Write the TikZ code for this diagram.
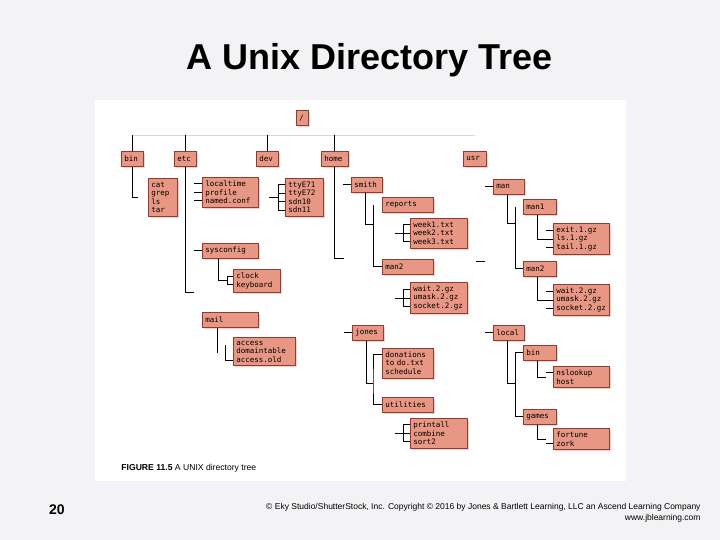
\documentclass[tikz,border=0pt]{standalone}
\usepackage{fontspec}
\setmainfont{Liberation Sans}
\newfontfamily\boxfont{DejaVu Sans Mono}
\usetikzlibrary{shadows}
\definecolor{boxfill}{RGB}{231,151,131}
\definecolor{boxline}{RGB}{140,62,52}
\definecolor{slidebg}{RGB}{243,243,245}

\begin{document}
\begin{tikzpicture}[x=1pt,y=-1pt,line width=.9pt,
 box/.style={draw=boxline,fill=boxfill,line width=.6pt,anchor=north west,align=left,
  inner xsep=3pt,inner ysep=3.5pt,font=\boxfont\fontsize{7.5}{8.5}\selectfont,
  drop shadow={shadow xshift=1.5pt,shadow yshift=-1.5pt,fill=boxfill!45,opacity=1}},
 dir/.style={box,text width=#1,minimum height=15pt},
 files/.style={box,text width=#1},
 lab/.style={font=\fontsize{8.6}{10}\selectfont,inner sep=0pt}]
\fill[slidebg] (0,0) rectangle (720,540);
\useasboundingbox (0,0) rectangle (720,540);
\fill[white] (95,100) rectangle (626,481);
\node[font=\bfseries\fontsize{36}{40}\selectfont,anchor=base] (title) at (369.5,70) {A Unix Directory Tree};
% top level
\node[dir=6pt] (root) at (296,110) {/};
\node[dir=16pt] (bin) at (121,151) {bin};
\node[dir=16pt] (etc) at (174,151) {etc};
\node[dir=16pt] (dev) at (256,151) {dev};
\node[dir=21pt] (home) at (321,151) {home};
\node[dir=17pt] (usr) at (463,151) {usr};
\draw[gray!30] ([yshift=16pt]bin.north) -- ([yshift=16pt]usr.north);
\draw (bin.north) -- ++(0,-16);
\draw (etc.north) -- ++(0,-16);
\draw (dev.north) -- ++(0,-16);
\draw (home.north) -- ++(0,-16);
% bin
\node[files=23pt] (binfiles) at (148,178) {cat\\grep\\ls\\tar};
\draw (bin.south) |- ([xshift=-10pt]binfiles.west);
% etc
\node[files=50pt] (etcfiles) at (202,177) {localtime\\profile\\named.conf};
\node[dir=50pt] (sysconfig) at (202,243) {sysconfig};
\node[files=41pt] (clockfiles) at (233,269) {clock\\keyboard};
\node[dir=50pt] (mail) at (202,312) {mail};
\node[files=56pt] (accessfiles) at (233,337) {access\\domaintable\\access.old};
\draw (etc.south) -- ++(0,126) -- ++(9,0);
\draw ([xshift=-8pt,yshift=8.5pt]etcfiles.west) -- ++(8,0);
\draw ([xshift=-8pt]etcfiles.west) -- (etcfiles.west);
\draw ([xshift=-8pt,yshift=-8.5pt]etcfiles.west) -- ++(8,0);
\draw ([xshift=-8pt]sysconfig.west) -- (sysconfig.west);
\draw ([xshift=16pt]sysconfig.south west) |- ([xshift=-6pt]clockfiles.west);
\draw ([yshift=4.25pt]clockfiles.west) -- ++(-6,0) -- ++(0,8.5) -- ++(6,0);
\draw ([xshift=15pt]mail.south west) -- ++(0,25);
\draw ([xshift=-8pt,yshift=6pt]accessfiles.west) |- ([yshift=-8.5pt]accessfiles.west);
% dev
\node[files=32pt] (devfiles) at (285,178) {ttyE71\\ttyE72\\sdn10\\sdn11};
\draw ([xshift=-16pt]devfiles.west) -- ++(9,0);
\draw ([yshift=12.75pt]devfiles.west) -- ++(-7,0) -- ++(0,25.5) -- ++(7,0);
\draw ([yshift=4.25pt]devfiles.west) -- ++(-7,0);
\draw ([yshift=-4.25pt]devfiles.west) -- ++(-7,0);
% home
\node[dir=25pt] (smith) at (351,177) {smith};
\node[dir=45pt] (reports) at (382,197) {reports};
\node[files=51pt] (weekfiles) at (410,218) {week1.txt\\week2.txt\\week3.txt};
\node[dir=45pt] (smithman) at (382,259) {man2};
\node[files=51pt] (smithgz) at (410,282) {wait.2.gz\\umask.2.gz\\socket.2.gz};
\node[dir=25pt] (jones) at (352,325) {jones};
\node[files=45pt] (jonesfiles) at (382,348) {donations\\to do.txt\\schedule};
\node[dir=45pt] (utilities) at (382,397) {utilities};
\node[files=51pt] (utilfiles) at (410,418) {printall\\combine\\sort2};
\draw (home.south) -- ++(0,92) -- ++(9,0);
\draw ([xshift=-8pt]smith.west) -- (smith.west);
\coordinate (smith-junction) at (373,224);
\draw ([xshift=14pt]smith.south west) |- (smith-junction);
\draw (reports.west -| smith-junction) |- (smithman.west);
\draw ([xshift=-15pt]weekfiles.west) -- (weekfiles.west);
\draw ([yshift=8.5pt]weekfiles.west) -- ++(-7,0) -- ++(0,17) -- ++(7,0);
\draw ([xshift=-15pt]smithgz.west) -- (smithgz.west);
\draw ([yshift=8.5pt]smithgz.west) -- ++(-7,0) -- ++(0,17) -- ++(7,0);
\draw ([xshift=-8pt]jones.west) -- (jones.west);
\coordinate (jones-junction) at (373,383);
\draw ([xshift=14pt]jones.south west) |- (jones-junction);
\draw ([yshift=8.5pt]jonesfiles.west) -| (jones-junction) |- (utilities.west);
\draw ([xshift=-15pt]utilfiles.west) -- (utilfiles.west);
\draw ([yshift=8.5pt]utilfiles.west) -- ++(-7,0) -- ++(0,17) -- ++(7,0);
% usr
\node[dir=25pt] (man) at (493,179) {man};
\node[dir=27pt] (man1) at (523,199) {man1};
\node[files=50pt] (man1files) at (553,223) {exit.1.gz\\ls.1.gz\\tail.1.gz};
\node[dir=27pt] (man2) at (523,261) {man2};
\node[files=50pt] (man2files) at (553,284) {wait.2.gz\\umask.2.gz\\socket.2.gz};
\node[dir=25pt] (local) at (493,325) {local};
\node[dir=27pt] (localbin) at (523,345) {bin};
\node[files=50pt] (binprogs) at (553,366) {nslookup\\host};
\node[dir=27pt] (games) at (523,409) {games};
\node[files=50pt] (gamefiles) at (553,428) {fortune\\zork};
\draw ([xshift=-8pt]man.west) -- (man.west);
\coordinate (man-junction) at (515,223);
\draw ([xshift=14pt]man.south west) |- (man-junction);
\draw (man1.west -| man-junction) |- (man2.west);
\draw ([xshift=14pt]man1.south west) |- (man1files.west);
\draw ([yshift=8.5pt]man1files.west) -- ++(-7,0);
\draw ([yshift=-8.5pt]man1files.west) -- ++(-7,0);
\draw ([xshift=14pt]man2.south west) |- (man2files.west);
\draw ([yshift=8.5pt]man2files.west) -- ++(-7,0);
\draw ([yshift=-8.5pt]man2files.west) -- ++(-7,0);
\draw ([xshift=-17pt]man.west |- man2.north) -- ++(9,0);
\draw ([xshift=-8pt]local.west) -- (local.west);
\coordinate (local-junction) at (515,383);
\draw ([xshift=14pt]local.south west) |- (local-junction);
\draw (localbin.west) -- ++(-8,0) |- (games.west);
\draw ([xshift=14pt]localbin.south west) |- ([xshift=-7pt]binprogs.west);
\draw ([yshift=4.25pt]binprogs.west) -- ++(-7,0);
\draw ([xshift=14pt]games.south west) |- ([xshift=-7pt]gamefiles.west);
\draw ([yshift=-4.25pt]gamefiles.west) -- ++(-7,0);
% caption and footer
\node[lab,anchor=base west] (caption) at (121,470) {\textbf{FIGURE 11.5} A UNIX directory tree};
\node[font=\bfseries\fontsize{14}{16}\selectfont] (pagenum) at (57,510) {20};
\node[font=\fontsize{8.5}{11}\selectfont,anchor=north east,align=right,inner sep=0pt] (credit) at (701,503)
 {\textcopyright{} Eky Studio/ShutterStock, Inc. Copyright \textcopyright{} 2016 by Jones \& Bartlett Learning, LLC an Ascend Learning Company\\www.jblearning.com};
\end{tikzpicture}
\end{document}
